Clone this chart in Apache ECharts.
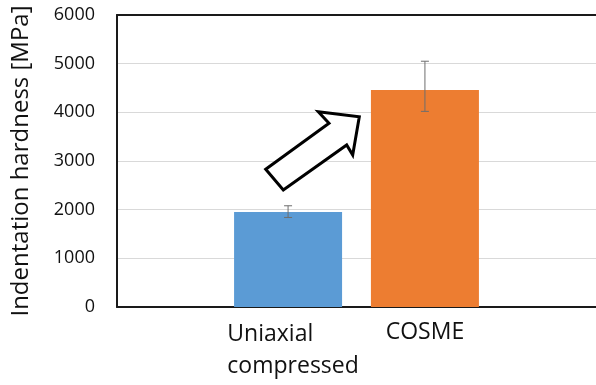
<!DOCTYPE html>
<html>
<head>
<meta charset="utf-8">
<script src="https://cdn.jsdelivr.net/npm/echarts@6/dist/echarts.min.js"></script>
<style>
  html, body { margin: 0; padding: 0; background: #fff; }
  #chart { width: 596px; height: 385px; }
</style>
</head>
<body>
<div id="chart"></div>
<script>
// Sample groups and measured hardness (MPa)
const categories = ['Uniaxial\ncompressed', 'COSME'];
const hardness = [1950, 4460];
const errLow = [1840, 4020];
const errHigh = [2080, 5050];
const yTicks = [0, 1000, 2000, 3000, 4000, 5000, 6000];
const barColors = ['#5b9bd5', '#ed7d31'];

// The samples sit on slots 2 and 4 of a 7-slot band axis
const slotOf = [2, 4];
const slots = ['', '', '', '', '', '', ''];
categories.forEach((c, i) => { slots[slotOf[i]] = c; });

const barData = slots.map(() => null);
const errData = [];
categories.forEach((c, i) => {
  barData[slotOf[i]] = { value: hardness[i], itemStyle: { color: barColors[i] } };
  errData.push([slotOf[i], errLow[i], errHigh[i]]);
});

const chart = echarts.init(document.getElementById('chart'), null, { renderer: 'canvas' });
const font = '"Open Sans", "DejaVu Sans", sans-serif';

chart.setOption({
  animation: false,
  backgroundColor: '#ffffff',
  grid: { left: 117, right: 0, top: 15, bottom: 78 },
  xAxis: [{
    type: 'category',
    data: slots,
    position: 'bottom',
    axisLine: { lineStyle: { color: '#1a1a1a', width: 2 } },
    axisTick: { show: false },
    axisLabel: {
      interval: 0,
      margin: 11,
      fontFamily: font,
      fontSize: 23,
      color: '#111',
      formatter: function (v) {
        if (!v) return '';
        if (v.indexOf('\n') >= 0) {
          return v.split('\n').map(s => '{a|' + s + '}').join('\n');
        }
        return '{b|' + v + '}';
      },
      rich: {
        a: { align: 'left', fontFamily: font, fontSize: 23, lineHeight: 32, color: '#111', padding: [0, 0, 0, 10] },
        b: { fontFamily: font, fontSize: 23, lineHeight: 28, color: '#111' }
      }
    }
  }, {
    type: 'category',
    data: slots,
    position: 'top',
    axisLine: { lineStyle: { color: '#1a1a1a', width: 2 } },
    axisTick: { show: false },
    axisLabel: { show: false }
  }],
  yAxis: {
    type: 'value',
    min: yTicks[0],
    max: yTicks[yTicks.length - 1],
    interval: 1000,
    name: 'Indentation hardness [MPa]',
    nameLocation: 'middle',
    nameGap: 84,
    nameTextStyle: { fontFamily: font, fontSize: 24, color: '#111' },
    axisLine: { show: true, lineStyle: { color: '#1a1a1a', width: 2 } },
    axisTick: { show: false },
    axisLabel: {
      margin: 22, fontFamily: font, fontSize: 18, color: '#111',
      formatter: function (v) { return String(v); }
    },
    splitLine: { lineStyle: { color: '#d9d9d9', width: 1 } }
  },
  series: [{
    type: 'bar',
    data: barData,
    barWidth: 108,
    barGap: '-100%'
  }, {
    type: 'custom',
    data: errData,
    z: 5,
    renderItem: function (params, api) {
      const x = api.value(0);
      const lo = api.coord([x, api.value(1)]);
      const hi = api.coord([x, api.value(2)]);
      const cap = 4;
      const style = { stroke: '#6e6e6e', lineWidth: 1 };
      return {
        type: 'group',
        children: [
          { type: 'line', shape: { x1: hi[0], y1: hi[1], x2: lo[0], y2: lo[1] }, style: style },
          { type: 'line', shape: { x1: hi[0] - cap, y1: hi[1], x2: hi[0] + cap, y2: hi[1] }, style: style },
          { type: 'line', shape: { x1: lo[0] - cap, y1: lo[1], x2: lo[0] + cap, y2: lo[1] }, style: style }
        ]
      };
    }
  }],
  graphic: [{
    // hollow block arrow pointing from the first bar towards the second
    type: 'polygon',
    z: 10,
    shape: {
      points: [
        [265.7, 169.3], [329, 123.3], [318.3, 111.7], [359.3, 116.7],
        [352.7, 155], [346.7, 145], [283.3, 190]
      ]
    },
    style: { fill: '#ffffff', stroke: '#000000', lineWidth: 3, lineJoin: 'miter' }
  }]
});
</script>
</body>
</html>
